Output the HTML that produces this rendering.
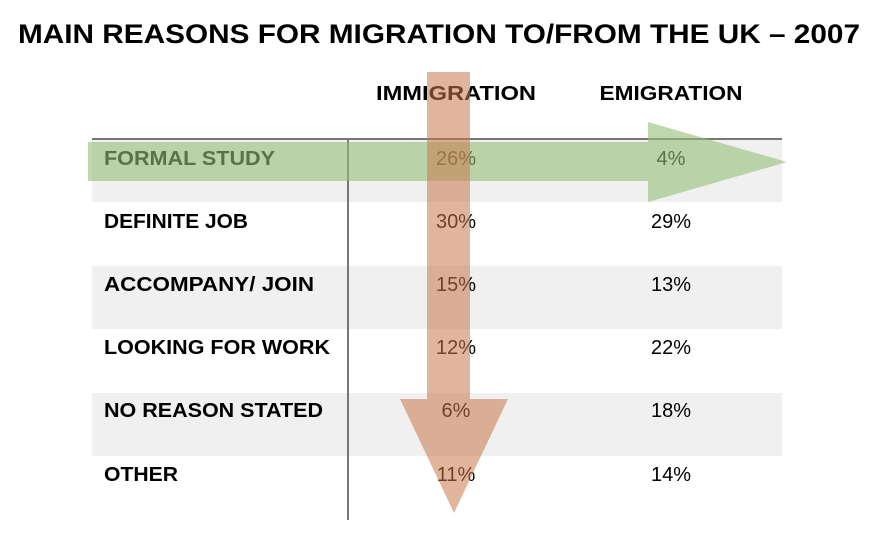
<!DOCTYPE html>
<html><head><meta charset="utf-8"><style>
html,body{margin:0;padding:0;background:#fff;}
svg{display:block;}
text{font-family:"Liberation Sans",Arial,sans-serif;}
</style></head><body>
<svg width="894" height="546" viewBox="0 0 894 546" xmlns="http://www.w3.org/2000/svg">
<rect width="894" height="546" fill="#fff"/>
<text x="439" y="43" text-anchor="middle" font-size="27" font-weight="bold" textLength="842" lengthAdjust="spacingAndGlyphs">MAIN REASONS FOR MIGRATION TO/FROM THE UK – 2007</text>
<text x="456" y="100" text-anchor="middle" font-size="20" font-weight="bold" textLength="160" lengthAdjust="spacingAndGlyphs">IMMIGRATION</text>
<text x="671" y="100" text-anchor="middle" font-size="20" font-weight="bold" textLength="143" lengthAdjust="spacingAndGlyphs">EMIGRATION</text>
<rect x="92" y="139" width="690" height="63" fill="#f0f0f0"/>
<rect x="92" y="266" width="690" height="63" fill="#f0f0f0"/>
<rect x="92" y="393" width="690" height="63" fill="#f0f0f0"/>
<line x1="92" y1="139" x2="782" y2="139" stroke="#777" stroke-width="2"/>
<line x1="348" y1="139" x2="348" y2="520" stroke="#777" stroke-width="2"/>
<g font-size="20" font-weight="bold">
<text x="104" y="165" textLength="171" lengthAdjust="spacingAndGlyphs">FORMAL STUDY</text>
<text x="104" y="228" textLength="144" lengthAdjust="spacingAndGlyphs">DEFINITE JOB</text>
<text x="104" y="291" textLength="210" lengthAdjust="spacingAndGlyphs">ACCOMPANY/ JOIN</text>
<text x="104" y="354" textLength="226" lengthAdjust="spacingAndGlyphs">LOOKING FOR WORK</text>
<text x="104" y="417" textLength="219" lengthAdjust="spacingAndGlyphs">NO REASON STATED</text>
<text x="104" y="481" textLength="74" lengthAdjust="spacingAndGlyphs">OTHER</text>
</g>
<g font-size="20" text-anchor="middle">
<text x="456" y="165">26%</text><text x="671" y="165">4%</text>
<text x="456" y="228">30%</text><text x="671" y="228">29%</text>
<text x="456" y="291">15%</text><text x="671" y="291">13%</text>
<text x="456" y="354">12%</text><text x="671" y="354">22%</text>
<text x="456" y="417">6%</text><text x="671" y="417">18%</text>
<text x="456" y="481">11%</text><text x="671" y="481">14%</text>
</g>
<polygon points="88,142 648,142 648,122 787,162 648,202 648,181 88,181" fill="rgb(150,190,120)" fill-opacity="0.6"/>
<polygon points="427,72 470,72 470,399 508,399 454,513 400,399 427,399" fill="rgb(200,120,75)" fill-opacity="0.55"/>
</svg>
</body></html>
